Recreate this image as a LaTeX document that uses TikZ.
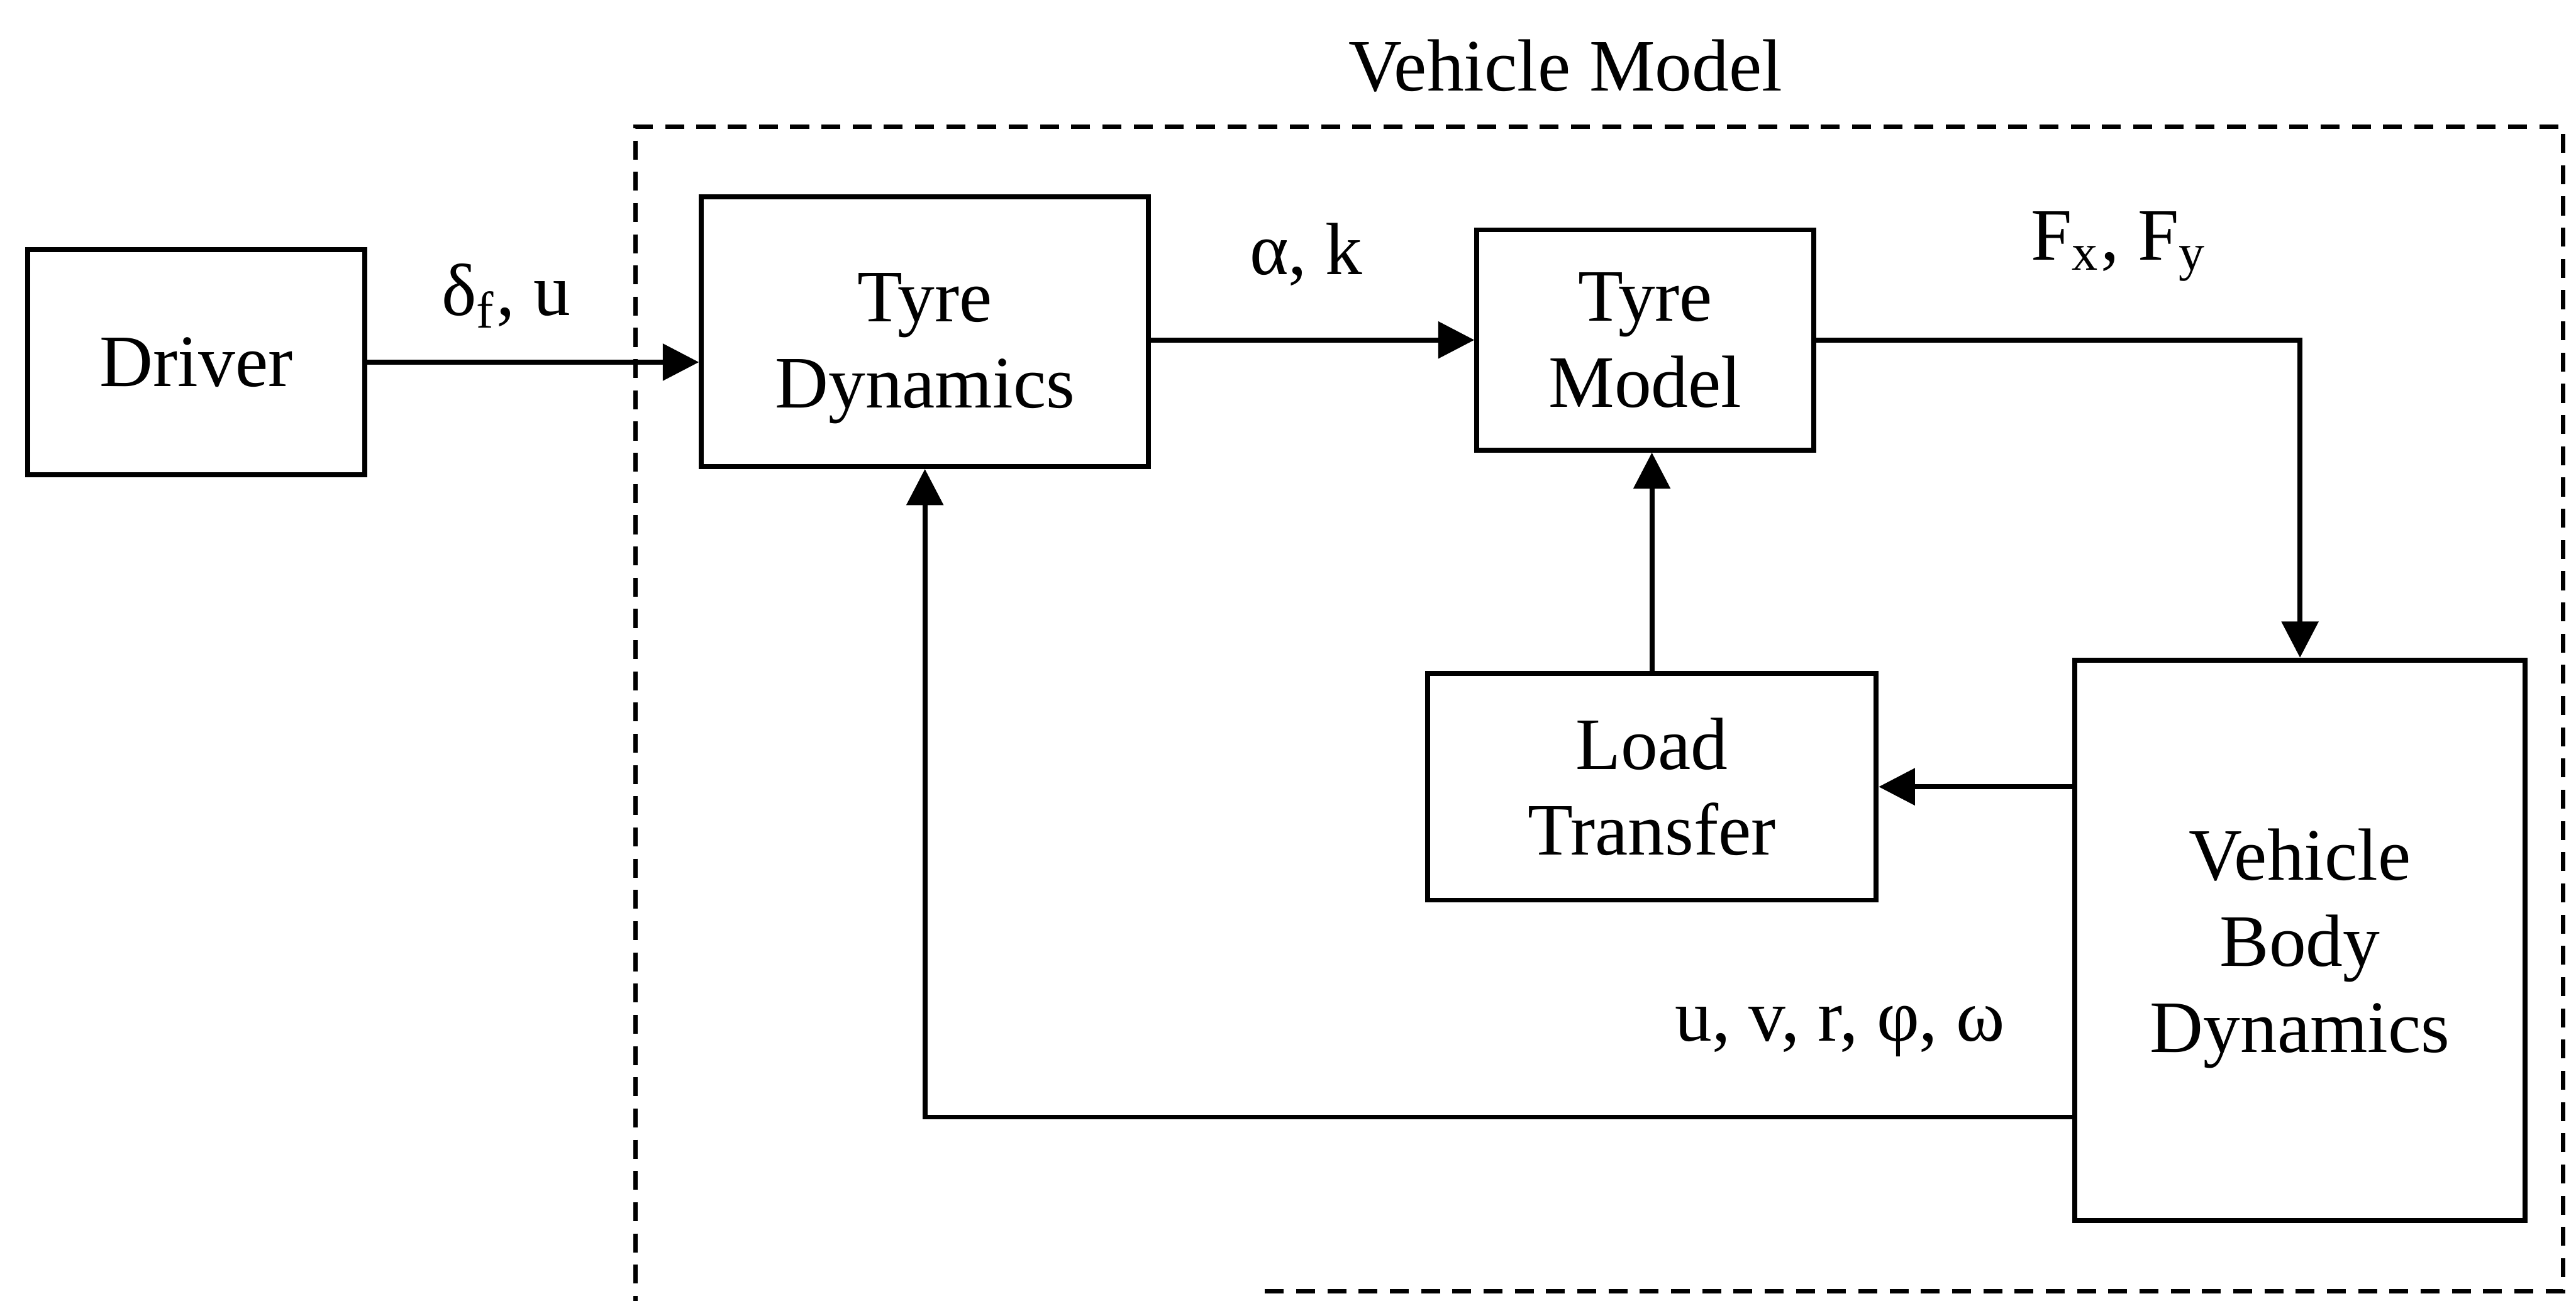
\documentclass[tikz,border=0pt]{standalone}
\usepackage{fontspec}
\setmainfont{Liberation Serif}
\usetikzlibrary{arrows.meta}
\begin{document}
\begin{tikzpicture}[x=0.01cm,y=-0.01cm,
  txt/.style={font=\fontsize{12.8pt}{14.9pt}\selectfont},
  blk/.style={txt,draw,line width=0.85pt,align=center,inner sep=0pt},
  flow/.style={line width=0.85pt,-{Triangle[length=0.22cm,width=0.22cm]}},
  lbl/.style={txt,inner sep=0pt},
  frame/.style={line width=0.75pt,dash pattern=on 0.115cm off 0.075cm}]
\useasboundingbox (0,0) rectangle (1568,792);

% blocks
\node[blk,minimum width=2.05cm,minimum height=1.37cm] (driver) at (119.5,220.5) {Driver};
\node[blk,minimum width=2.72cm,minimum height=1.64cm] (tdyn) at (563,202) {};
\node[txt,align=center,inner sep=0pt] (tdyntext) at ([yshift=-0.1cm]tdyn.center) {Tyre\\Dynamics};
\node[blk,minimum width=2.05cm,minimum height=1.34cm] (tmod) at (1001.5,207) {Tyre\\Model};
\node[blk,minimum width=2.73cm,minimum height=1.38cm] (load) at (1005.5,479) {Load\\Transfer};
\node[blk,minimum width=2.74cm,minimum height=3.41cm] (vbd) at (1400,572.5) {};
\node[txt,align=center,inner sep=0pt] (vbdtext) at ([yshift=-0.05cm]vbd.center) {Vehicle\\Body\\Dynamics};

% vehicle model boundary
\draw[frame] (770,786) -- (1560,786) -- (1560,77) -- (387,77) -- (387,792);
\node[lbl] (title) at (953,40) {Vehicle Model};

% signal labels
\node[lbl] (inlbl) at (308,180) {δ\textsubscript{f}, u};
\node[lbl] (slip) at (795,155) {α, k};
\node[lbl] (force) at (1290,150) {F\textsubscript{x}, F\textsubscript{y}};
\node[lbl] (state) at (1120,628) {u, v, r, φ, ω};

% connectors
\coordinate (fbk) at ([yshift=-1.075cm]vbd.west);
\draw[flow] (driver.east) -- (driver.east -| tdyn.west);
\draw[flow] (tdyn.east |- tmod.west) -- (tmod.west);
\draw[flow] (tmod.east) -| (vbd.north);
\draw[flow] (load.north) -- (load.north |- tmod.south);
\draw[flow] (vbd.west |- load.east) -- (load.east);
\draw[flow] (fbk) -| (tdyn.south);
\end{tikzpicture}
\end{document}
